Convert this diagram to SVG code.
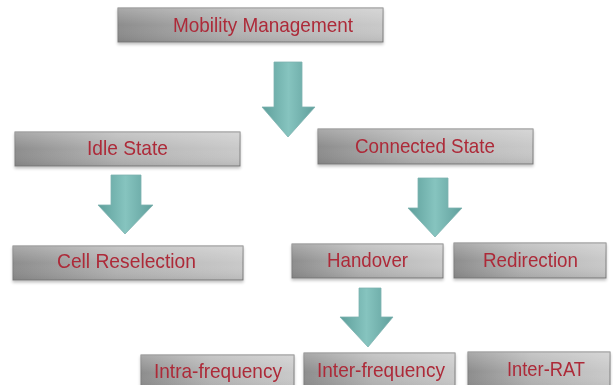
<svg xmlns="http://www.w3.org/2000/svg" width="613" height="385" viewBox="0 0 613 385">
  <defs>
    <linearGradient id="boxFill" x1="0" y1="0" x2="1" y2="0">
      <stop offset="0" stop-color="#8d8d8d"/>
      <stop offset="0.45" stop-color="#b4b4b4"/>
      <stop offset="1" stop-color="#c9c9c9"/>
    </linearGradient>
    <linearGradient id="boxShade" x1="0" y1="0" x2="0" y2="1">
      <stop offset="0" stop-color="#ffffff" stop-opacity="0.25"/>
      <stop offset="0.5" stop-color="#ffffff" stop-opacity="0"/>
      <stop offset="1" stop-color="#000000" stop-opacity="0.08"/>
    </linearGradient>
    <linearGradient id="arrowFill" x1="0" y1="0" x2="1" y2="0">
      <stop offset="0" stop-color="#5e9f9b"/>
      <stop offset="0.5" stop-color="#86c4bf"/>
      <stop offset="1" stop-color="#609f9c"/>
    </linearGradient>
    <filter id="shadow" x="-5%" y="-20%" width="110%" height="150%">
      <feGaussianBlur in="SourceAlpha" stdDeviation="1.5"/>
      <feOffset dy="2" result="b"/>
      <feComponentTransfer><feFuncA type="linear" slope="0.25"/></feComponentTransfer>
      <feMerge><feMergeNode/><feMergeNode in="SourceGraphic"/></feMerge>
    </filter>
  </defs>
  <style>
    .box { fill: url(#boxFill); stroke: #7e7e7e; stroke-width: 1; }
    .shade { fill: url(#boxShade); stroke: none; }
    .label { font-family: "Liberation Sans", Arial, sans-serif; font-size: 21px; fill: #ad2a39; text-anchor: start; }
    .arrow { fill: url(#arrowFill); stroke: #7fb3b0; stroke-width: 0.8; }
  </style>

  <rect width="613" height="385" fill="#ffffff"/>

  <!-- block arrows between levels -->
  <g id="connectors">
    <polygon class="arrow" points="274,62 302,62 302,107 315,107 288,137 262,107 274,107"/>
    <polygon class="arrow" points="111,175 141,175 141,205 153,205 125,234 98,205 111,205"/>
    <polygon class="arrow" points="418,178 448,178 448,208 462,208 435,237 408,208 418,208"/>
    <polygon class="arrow" points="359,288 381,288 381,317 393,317 368,347 340,317 359,317"/>
  </g>

  <g id="mobility-management" filter="url(#shadow)">
    <rect class="box" x="118" y="8" width="265" height="34"/>
    <rect class="shade" x="118" y="8" width="265" height="34"/>
    <text class="label" x="173" y="32" textLength="180" lengthAdjust="spacingAndGlyphs">Mobility Management</text>
  </g>

  <g id="idle-state" filter="url(#shadow)">
    <rect class="box" x="15" y="132" width="225" height="34"/>
    <rect class="shade" x="15" y="132" width="225" height="34"/>
    <text class="label" x="87" y="155" textLength="81" lengthAdjust="spacingAndGlyphs">Idle State</text>
  </g>

  <g id="connected-state" filter="url(#shadow)">
    <rect class="box" x="318" y="129" width="215" height="35"/>
    <rect class="shade" x="318" y="129" width="215" height="35"/>
    <text class="label" x="355" y="153" textLength="140" lengthAdjust="spacingAndGlyphs">Connected State</text>
  </g>

  <g id="cell-reselection" filter="url(#shadow)">
    <rect class="box" x="13" y="246" width="230" height="34"/>
    <rect class="shade" x="13" y="246" width="230" height="34"/>
    <text class="label" x="57" y="268" textLength="139" lengthAdjust="spacingAndGlyphs">Cell Reselection</text>
  </g>

  <g id="handover" filter="url(#shadow)">
    <rect class="box" x="292" y="244" width="151" height="34"/>
    <rect class="shade" x="292" y="244" width="151" height="34"/>
    <text class="label" x="327" y="267" textLength="81" lengthAdjust="spacingAndGlyphs">Handover</text>
  </g>

  <g id="redirection" filter="url(#shadow)">
    <rect class="box" x="454" y="243" width="152" height="35"/>
    <rect class="shade" x="454" y="243" width="152" height="35"/>
    <text class="label" x="483" y="267" textLength="95" lengthAdjust="spacingAndGlyphs">Redirection</text>
  </g>

  <g id="intra-frequency" filter="url(#shadow)">
    <rect class="box" x="141" y="355" width="153" height="36"/>
    <rect class="shade" x="141" y="355" width="153" height="36"/>
    <text class="label" x="154" y="378" textLength="128" lengthAdjust="spacingAndGlyphs">Intra-frequency</text>
  </g>

  <g id="inter-frequency" filter="url(#shadow)">
    <rect class="box" x="304" y="353" width="151" height="38"/>
    <rect class="shade" x="304" y="353" width="151" height="38"/>
    <text class="label" x="317" y="377" textLength="128" lengthAdjust="spacingAndGlyphs">Inter-frequency</text>
  </g>

  <g id="inter-rat" filter="url(#shadow)">
    <rect class="box" x="468" y="352" width="142" height="39"/>
    <rect class="shade" x="468" y="352" width="142" height="39"/>
    <text class="label" x="507" y="376" textLength="78" lengthAdjust="spacingAndGlyphs">Inter-RAT</text>
  </g>
</svg>
